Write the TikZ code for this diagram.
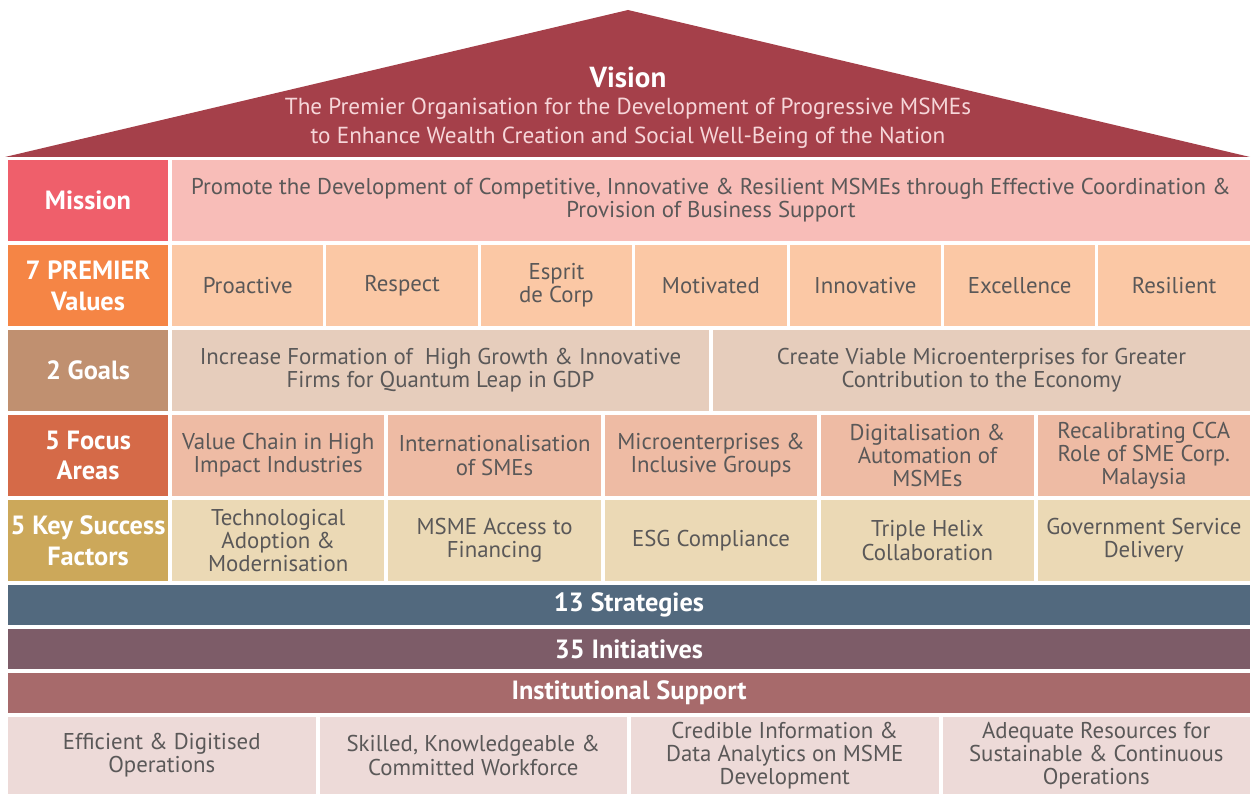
\documentclass[tikz,border=0pt]{standalone}
\usepackage{fontspec}
\setmainfont{PT Sans}
\usetikzlibrary{positioning}
\definecolor{rooffill}{HTML}{A5404A}
\definecolor{rooftext}{HTML}{F6D6D9}
\definecolor{textgray}{HTML}{5A5858}
\definecolor{missionhead}{HTML}{EF5F6B}
\definecolor{missionfill}{HTML}{F8BDB8}
\definecolor{valuehead}{HTML}{F58545}
\definecolor{valuefill}{HTML}{FBC8A5}
\definecolor{goalhead}{HTML}{C09070}
\definecolor{goalfill}{HTML}{E6CDBC}
\definecolor{focushead}{HTML}{D56A48}
\definecolor{focusfill}{HTML}{EEBBA4}
\definecolor{ksfhead}{HTML}{CCA85A}
\definecolor{ksffill}{HTML}{EBD9B5}
\definecolor{stratfill}{HTML}{52697E}
\definecolor{initfill}{HTML}{7D5C68}
\definecolor{instfill}{HTML}{A76A6B}
\definecolor{basefill}{HTML}{EDDAD8}
\tikzset{
    every node/.style={inner sep=0pt, outer sep=0pt, align=center}, % boxes meet exactly
    head/.style={fill=#1, text=white, font=\bfseries\fontsize{15}{17.5}\selectfont,
        minimum width=3.2cm, minimum height=1.62cm},
    cell/.style={fill=#1, text=textgray, font=\fontsize{13}{13.2}\selectfont,
        minimum height=1.62cm},
    band/.style={fill=#1, text=white, font=\bfseries\fontsize{15}{16}\selectfont,
        minimum width=24.84cm, minimum height=0.8cm},
}
\begin{document}
\begin{tikzpicture}
    \useasboundingbox (0,0) rectangle (25.14,-15.88);
    % roof
    \fill[rooffill] (0.1,-3.14) -- (12.56,-0.2) -- (25.0,-3.14) -- cycle;
    \node[text=white, font=\bfseries\fontsize{16.5}{18}\selectfont] (vision) at (12.56,-1.54) {Vision};
    \node[text=rooftext, font=\fontsize{13.2}{16.5}\selectfont, below=0.2cm of vision] (visiontext)
        {The Premier Organisation for the Development of Progressive MSMEs\\
         to Enhance Wealth Creation and Social Well-Being of the Nation};
    % mission
    \node[head=missionhead] (mhead) at (1.76,-4.01) {Mission};
    \node[cell=missionfill, minimum width=21.56cm, right=0.08cm of mhead] (mission)
        {Promote the Development of Competitive, Innovative \& Resilient MSMEs through Effective Coordination \&\\
         Provision of Business Support};
    % values
    \node[head=valuehead, below=0.08cm of mhead] (vhead) {7 PREMIER\\Values};
    \node[cell=valuefill, minimum width=3.028cm, right=0.08cm of vhead] (v1) {Proactive};
    \node[cell=valuefill, minimum width=3.028cm, right=0.06cm of v1] (v2) {Respect};
    \node[cell=valuefill, minimum width=3.028cm, right=0.06cm of v2] (v3) {Esprit\\de Corp};
    \node[cell=valuefill, minimum width=3.028cm, right=0.06cm of v3] (v4) {Motivated};
    \node[cell=valuefill, minimum width=3.028cm, right=0.06cm of v4] (v5) {Innovative};
    \node[cell=valuefill, minimum width=3.028cm, right=0.06cm of v5] (v6) {Excellence};
    \node[cell=valuefill, minimum width=3.028cm, right=0.06cm of v6] (v7) {Resilient};
    % goals
    \node[head=goalhead, below=0.08cm of vhead] (ghead) {2 Goals};
    \node[cell=goalfill, minimum width=10.74cm, right=0.08cm of ghead] (g1)
        {Increase Formation of \ High Growth \& Innovative\\Firms for Quantum Leap in GDP};
    \node[cell=goalfill, minimum width=10.74cm, right=0.08cm of g1] (g2)
        {Create Viable Microenterprises for Greater\\Contribution to the Economy};
    % focus areas
    \node[head=focushead, below=0.08cm of ghead] (fhead) {5 Focus\\Areas};
    \node[cell=focusfill, minimum width=4.248cm, right=0.08cm of fhead] (f1) {Value Chain in High\\Impact Industries};
    \node[cell=focusfill, minimum width=4.248cm, right=0.08cm of f1] (f2) {Internationalisation\\of SMEs};
    \node[cell=focusfill, minimum width=4.248cm, right=0.08cm of f2] (f3) {Microenterprises \&\\Inclusive Groups};
    \node[cell=focusfill, minimum width=4.248cm, right=0.08cm of f3] (f4) {Digitalisation \&\\Automation of\\MSMEs};
    \node[cell=focusfill, minimum width=4.248cm, right=0.08cm of f4] (f5) {Recalibrating CCA\\Role of SME Corp.\\Malaysia};
    % key success factors
    \node[head=ksfhead, below=0.08cm of fhead] (khead) {5 Key Success\\Factors};
    \node[cell=ksffill, minimum width=4.248cm, right=0.08cm of khead] (k1) {Technological\\Adoption \&\\Modernisation};
    \node[cell=ksffill, minimum width=4.248cm, right=0.08cm of k1] (k2) {MSME Access to\\Financing};
    \node[cell=ksffill, minimum width=4.248cm, right=0.08cm of k2] (k3) {ESG Compliance};
    \node[cell=ksffill, minimum width=4.248cm, right=0.08cm of k3] (k4) {Triple Helix\\Collaboration};
    \node[cell=ksffill, minimum width=4.248cm, right=0.08cm of k4] (k5) {Government Service\\Delivery};
    % bands
    \node[band=stratfill, below=0.08cm of khead.south west, anchor=north west] (strat) {13 Strategies};
    \node[band=initfill, below=0.08cm of strat] (init) {35 Initiatives};
    \node[band=instfill, below=0.08cm of init] (inst) {Institutional Support};
    % institutional support pillars
    \node[cell=basefill, minimum width=6.15cm, minimum height=1.54cm,
        below=0.08cm of inst.south west, anchor=north west] (b1) {Efficient \& Digitised\\Operations};
    \node[cell=basefill, minimum width=6.15cm, minimum height=1.54cm, right=0.08cm of b1] (b2)
        {Skilled, Knowledgeable \&\\Committed Workforce};
    \node[cell=basefill, minimum width=6.15cm, minimum height=1.54cm, right=0.08cm of b2] (b3)
        {Credible Information \&\\Data Analytics on MSME\\Development};
    \node[cell=basefill, minimum width=6.15cm, minimum height=1.54cm, right=0.08cm of b3] (b4)
        {Adequate Resources for\\Sustainable \& Continuous\\Operations};
\end{tikzpicture}
\end{document}
